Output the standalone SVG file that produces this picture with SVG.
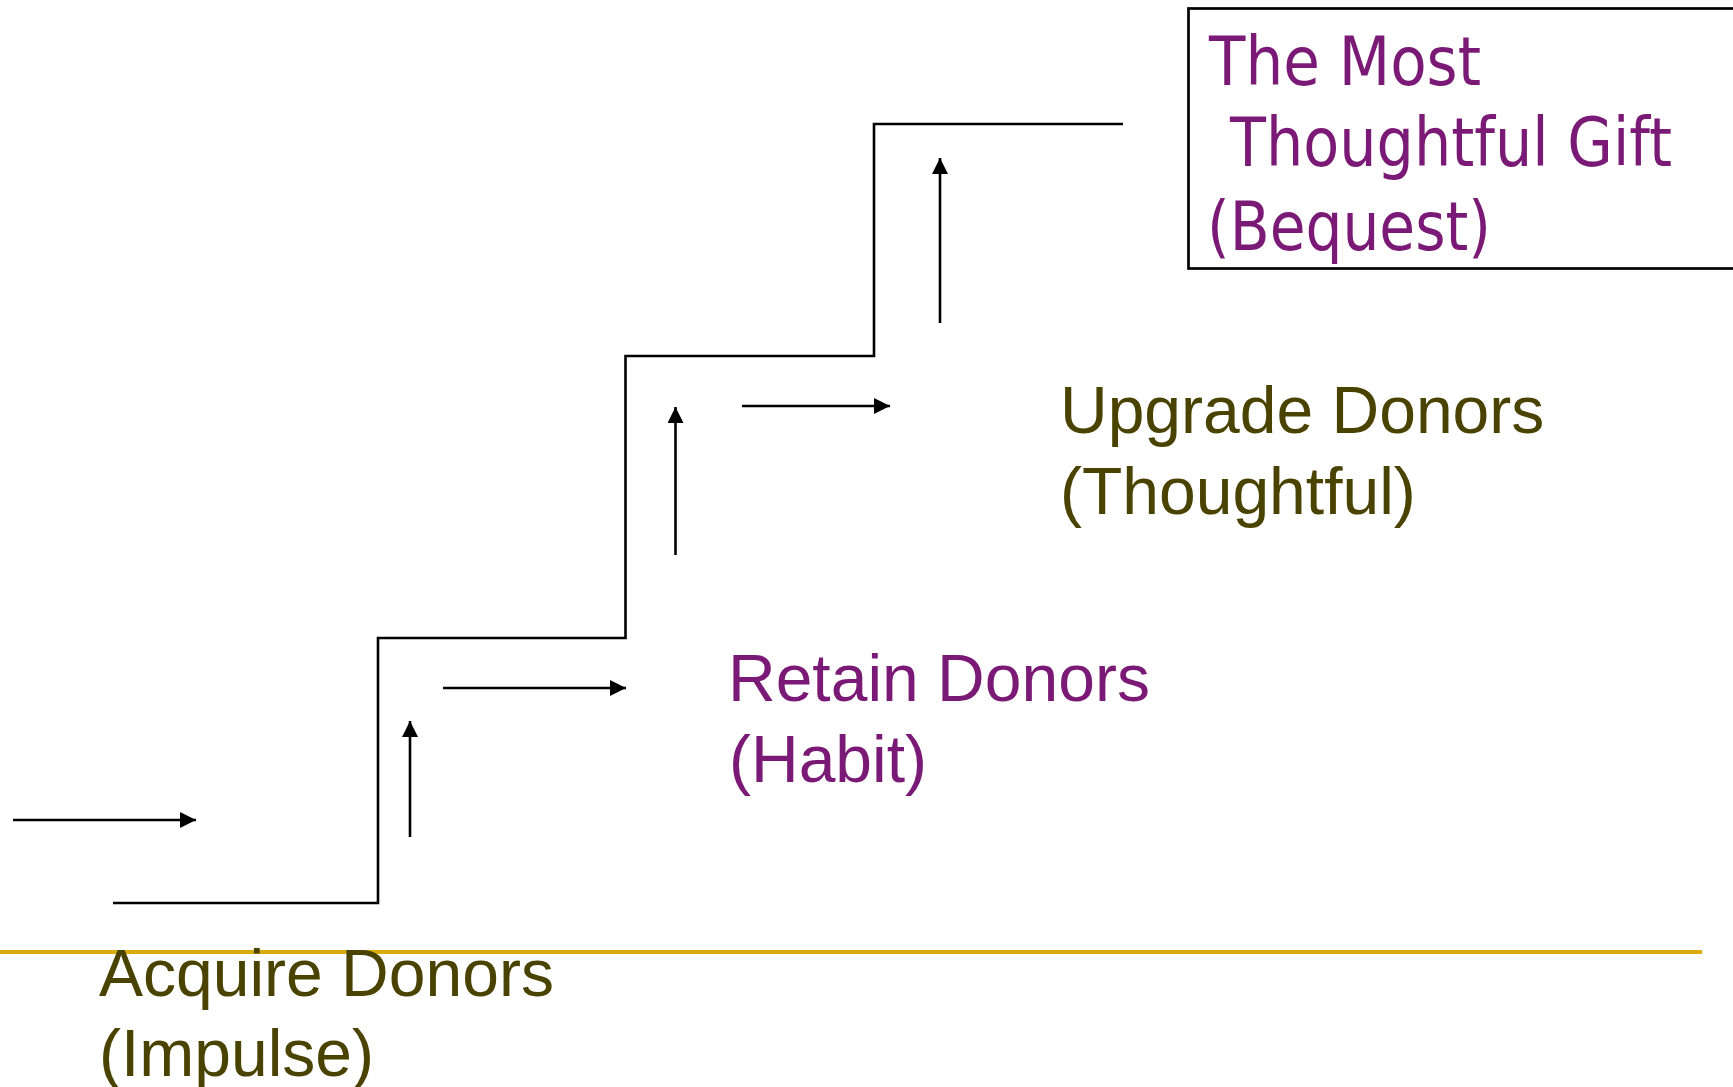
<svg xmlns="http://www.w3.org/2000/svg" width="1733" height="1087" viewBox="0 0 1733 1087">
<style>
.line{fill:none;stroke:#000;stroke-width:2.6;stroke-linecap:butt;stroke-linejoin:miter}
.arr{fill:none;stroke:#000;stroke-width:2.6;marker-end:url(#ah)}
.olive{font-family:"Liberation Sans",Arial,sans-serif;font-size:66px;fill:#4A4300}
.purple{font-family:"Liberation Sans",Arial,sans-serif;font-size:66px;fill:#7B1A76}
.boxt{font-family:"DejaVu Sans",Tahoma,Verdana,sans-serif;font-size:67px;fill:#7B1A76}
</style>
<defs>
<marker id="ah" markerUnits="userSpaceOnUse" markerWidth="16" markerHeight="16" refX="16" refY="8" orient="auto">
<path d="M0,0 L16,8 L0,16 z" fill="#000"/>
</marker>
</defs>
<rect width="1733" height="1087" fill="#fff"/>
<g id="baseline-rule">
<line x1="0" y1="952" x2="1702" y2="952" stroke="#D9AC08" stroke-width="4"/>
</g>
<g id="staircase">
<polyline class="line" points="113,903 378,903 378,638 625.5,638 625.5,356 874,356 874,124 1123,124"/>
</g>
<g id="connectors">
<line class="arr" x1="13" y1="820" x2="196" y2="820"/>
<line class="arr" x1="410" y1="837" x2="410" y2="721"/>
<line class="arr" x1="443" y1="688" x2="626" y2="688"/>
<line class="arr" x1="675.5" y1="555" x2="675.5" y2="407"/>
<line class="arr" x1="742" y1="406" x2="890" y2="406"/>
<line class="arr" x1="940" y1="323" x2="940" y2="158"/>
</g>
<g id="acquire">
<text class="olive" x="99" y="996">Acquire Donors</text>
<text class="olive" x="99" y="1076">(Impulse)</text>
</g>
<g id="retain">
<text class="purple" x="728" y="701">Retain Donors</text>
<text class="purple" x="729" y="782">(Habit)</text>
</g>
<g id="upgrade">
<text class="olive" x="1060" y="433">Upgrade Donors</text>
<text class="olive" x="1060" y="514">(Thoughtful)</text>
</g>
<g id="bequest">
<rect x="1188.5" y="8.5" width="600" height="260" fill="none" stroke="#000" stroke-width="2.7"/>
<text class="boxt" x="1209" y="85" textLength="272" lengthAdjust="spacingAndGlyphs">The Most</text>
<text class="boxt" x="1230" y="166" textLength="442" lengthAdjust="spacingAndGlyphs">Thoughtful Gift</text>
<text class="boxt" x="1207" y="250" textLength="284" lengthAdjust="spacingAndGlyphs">(Bequest)</text>
</g>
</svg>
